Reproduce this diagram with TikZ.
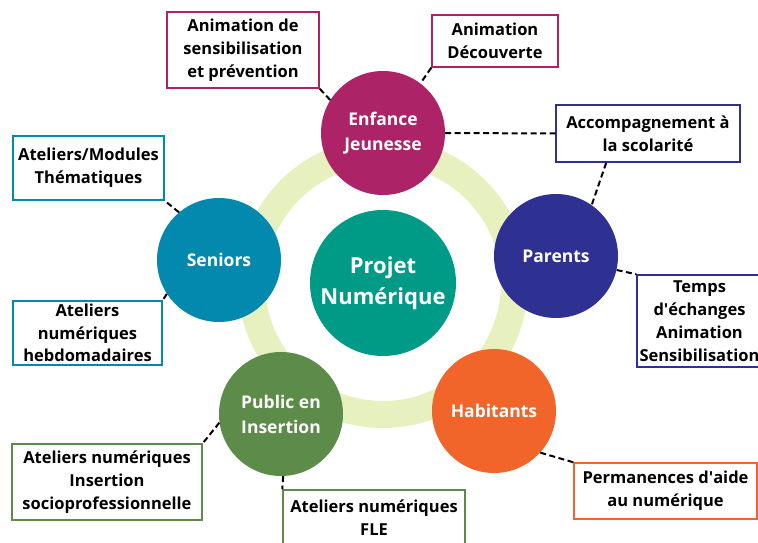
\documentclass[tikz,border=0pt]{standalone}
\usepackage{fontspec}
\setmainfont{Open Sans}
\definecolor{enfColor}{HTML}{AD2367}
\definecolor{parColor}{HTML}{2E3192}
\definecolor{habColor}{HTML}{F1652A}
\definecolor{pubColor}{HTML}{5D8B4A}
\definecolor{senColor}{HTML}{0389AE}
\definecolor{projColor}{HTML}{009B87}
\definecolor{ringColor}{HTML}{E7F0BF}
\newcommand{\boxfont}{\fontsize{16.5}{22.8}\selectfont\bfseries}
\newcommand{\groupfont}{\fontsize{17.5}{25}\selectfont\bfseries}
\newcommand{\bigfont}{\fontsize{22}{31}\selectfont\bfseries}

\begin{document}
\begin{tikzpicture}[
    x = 1pt, y = -1pt,
    group/.style = {circle, fill=#1, minimum size=124pt, inner sep=0pt,
        text=white, align=center, font=\groupfont},
    box/.style = {draw=#1, line width=1.5pt, fill=white, align=center,
        inner sep=0pt, font=\boxfont},
    link/.style = {draw, line width=2pt, dash pattern=on 6pt off 3.5pt}
  ]
  \useasboundingbox (0,0) rectangle (758,543);

  % ring and centre
  \draw[ringColor, line width=27pt] (383,283) circle[radius=131.5pt];
  \node[group=projColor, minimum size=146pt, font=\bigfont] (proj) at (383,283) {Projet\\Numérique};

  % groups
  \node[group=enfColor] (enf) at (383,133) {Enfance\\Jeunesse};
  \node[group=parColor] (par) at (556,256) {Parents};
  \node[group=habColor] (hab) at (494,411) {Habitants};
  \node[group=pubColor] (pub) at (281,414) {Public en\\Insertion};
  \node[group=senColor] (sen) at (219,260) {Seniors};

  % actions
  \node[box=enfColor, minimum width=152pt, minimum height=76pt] (enfA) at (243,50) {Animation de\\sensibilisation\\et prévention};
  \node[box=enfColor, minimum width=126pt, minimum height=52pt] (enfB) at (495,41) {Animation\\Découverte};
  \node[box=parColor, minimum width=184pt, minimum height=57pt] (parA) at (648,133.5) {Accompagnement à\\la scolarité};
  \node[box=parColor, minimum width=125pt, minimum height=92pt] (parB) at (699.5,321) {Temps\\d\textquotesingle échanges\\Animation\\Sensibilisation};
  \node[box=habColor, minimum width=183pt, minimum height=56pt] (habA) at (665.5,491) {Permanences d\textquotesingle aide\\au numérique};
  \node[box=pubColor, minimum width=190pt, minimum height=76pt] (pubA) at (107,482) {Ateliers numériques\\Insertion\\socioprofessionnelle};
  \node[box=pubColor, minimum width=182pt, minimum height=56pt] (pubB) at (374,518) {Ateliers numériques\\FLE};
  \node[box=senColor, minimum width=151pt, minimum height=64pt] (senA) at (88.5,168) {Ateliers/Modules\\Thématiques};
  \node[box=senColor, minimum width=149pt, minimum height=64pt] (senB) at (87.5,333) {Ateliers\\numériques\\hebdomadaires};

  % dashed links
  \foreach \a/\b in {enfA.south east/enf.148, enfB.south west/enf.53,
      enf.east/parA.west, parA.-145/par.55, par.-13/parB.north west,
      hab.-42/habA.north west, pub.-172/pubA.north east, pub.-88/pubB.north west,
      sen.130/senA.south east, sen.-147/senB.north east}
    \draw[link] (\a) -- (\b);
\end{tikzpicture}
\end{document}
